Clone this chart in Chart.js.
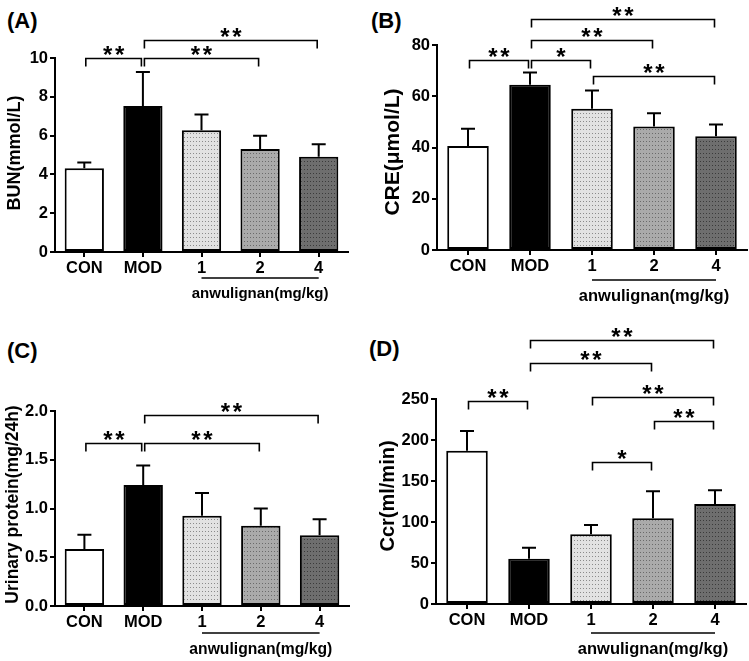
<!DOCTYPE html>
<html>
<head>
<meta charset="utf-8">
<script src="https://cdn.jsdelivr.net/npm/chart.js@4.4.0/dist/chart.umd.min.js"></script>
<style>
body{margin:0;background:#fff;width:749px;height:661px;position:relative;overflow:hidden}
canvas{position:absolute}
.lab{position:absolute;font:bold 22px "Liberation Sans",Arial,sans-serif;line-height:22px;color:#000}
</style>
</head>
<body>
<div class="lab" style="left:7px;top:10px">(A)</div>
<div class="lab" style="left:371px;top:10px">(B)</div>
<div class="lab" style="left:7px;top:340px">(C)</div>
<div class="lab" style="left:369px;top:338px">(D)</div>
<canvas id="cA" width="374" height="330" style="left:0;top:0"></canvas>
<canvas id="cB" width="374" height="330" style="left:375px;top:0"></canvas>
<canvas id="cC" width="374" height="331" style="left:0;top:330px"></canvas>
<canvas id="cD" width="374" height="346" style="left:375px;top:315px"></canvas>
<script>
const groups = ['CON', 'MOD', '1', '2', '4'];
const doseNote = 'anwulignan(mg/kg)';

// mean and SD per group
const bunMean = [4.32, 7.52, 6.28, 5.31, 4.91];
const bunSD   = [0.29, 1.76, 0.81, 0.68, 0.64];
const creMean = [40.6, 64.5, 55.1, 48.2, 44.4];
const creSD   = [6.7, 4.8, 7.1, 5.2, 4.6];
const upMean  = [0.585, 1.24, 0.926, 0.824, 0.725];
const upSD    = [0.145, 0.20, 0.234, 0.176, 0.165];
const ccrMean = [187, 55.3, 85, 104.5, 122];
const ccrSD   = [24, 13.4, 11.3, 32.9, 16.6];

// y tick labels
const bunTicks = [0, 2, 4, 6, 8, 10];
const creTicks = [0, 20, 40, 60, 80];
const upTicks  = [0, 0.5, 1.0, 1.5, 2.0];
const ccrTicks = [0, 50, 100, 150, 200, 250];

// significance brackets: from group, to group, height (axis units), label
const bunSig = [[0, 1, 10, '**'], [1, 3, 10, '**'], [1, 4, 10.93, '**']];
const creSig = [[0, 1, 74.1, '**'], [1, 2, 74.1, '*'], [1, 3, 82, '**'], [1, 4, 90.2, '**'], [2, 4, 67.8, '**']];
const upSig  = [[0, 1, 1.675, '**'], [1, 3, 1.675, '**'], [1, 4, 1.96, '**']];
const ccrSig = [[0, 1, 247.6, '**'], [1, 3, 293.5, '**'], [1, 4, 322, '**'], [2, 4, 252, '**'], [3, 4, 223.6, '**'], [2, 3, 172.8, '*']];

const FONT = '"Liberation Sans", Arial, sans-serif';

function dots(bg, dot) {
  const c = document.createElement('canvas');
  c.width = 3; c.height = 4;
  const g = c.getContext('2d');
  g.fillStyle = bg; g.fillRect(0, 0, 3, 4);
  g.fillStyle = dot; g.fillRect(1, 1, 1, 1);
  return g.createPattern(c, 'repeat');
}
const fills = ['#ffffff', '#000000', dots('#e2e2e2', '#8a8a8a'), dots('#aaaaaa', '#6a6a6a'), dots('#6e6e6e', '#3a3a3a')];

const extras = {
  id: 'extras',
  afterDatasetsDraw(chart, args, p) {
    const ctx = chart.ctx, x = chart.scales.x, y = chart.scales.y;
    const bars = chart.getDatasetMeta(0).data;
    ctx.save();
    ctx.strokeStyle = '#000';
    // error bars (upper whisker only)
    ctx.lineWidth = 2;
    p.mean.forEach((m, i) => {
      const bx = bars[i].x, yt = y.getPixelForValue(m + p.sd[i]);
      ctx.beginPath();
      ctx.moveTo(bx, bars[i].y); ctx.lineTo(bx, yt);
      ctx.moveTo(bx - 7, yt); ctx.lineTo(bx + 7, yt);
      ctx.stroke();
    });
    // brackets
    ctx.lineWidth = 1.6;
    ctx.fillStyle = '#000';
    ctx.font = 'bold 24px ' + FONT;
    ctx.textAlign = 'center';
    ctx.textBaseline = 'alphabetic';
    p.sig.forEach(([a, b, v, lab]) => {
      const x1 = x.getPixelForValue(a) + 1.5, x2 = x.getPixelForValue(b) - 1.5;
      const yl = Math.round(y.getPixelForValue(v)) + 0.5;
      ctx.beginPath();
      ctx.moveTo(x1, yl + 8); ctx.lineTo(x1, yl); ctx.lineTo(x2, yl); ctx.lineTo(x2, yl + 8);
      ctx.stroke();
      const mid = (x1 + x2) / 2;
      const n = lab.length;
      for (let k = 0; k < n; k++) {
        ctx.fillText('*', mid + (k - (n - 1) / 2) * 12, yl + 4);
      }
    });
    ctx.restore();
  },
  afterDraw(chart, args, p) {
    const ctx = chart.ctx, x = chart.scales.x, area = chart.chartArea;
    ctx.save();
    ctx.fillStyle = '#000';
    ctx.strokeStyle = '#000';
    // dose underline and label
    const x1 = x.getPixelForValue(2), x2 = x.getPixelForValue(4);
    ctx.lineWidth = 1.6;
    ctx.beginPath();
    ctx.moveTo(x1, area.bottom + p.noteLine); ctx.lineTo(x2, area.bottom + p.noteLine);
    ctx.stroke();
    ctx.font = 'bold ' + p.noteSize + 'px ' + FONT;
    ctx.textAlign = 'center';
    ctx.textBaseline = 'middle';
    ctx.fillText(doseNote, (x1 + x2) / 2, area.bottom + p.noteText);
    // y title
    ctx.translate(p.titleX, p.titleY);
    ctx.rotate(-Math.PI / 2);
    ctx.font = 'bold ' + p.titleSize + 'px ' + FONT;
    ctx.fillText(p.title, 0, 0);
    ctx.restore();
  }
};

const panels = [
  {id: 'cA', mean: bunMean, sd: bunSD, ticks: bunTicks, sig: bunSig, dec: 0, title: 'BUN(mmol/L)',
   titleSize: 18, titleX: 15, titleY: 153, left: 55, right: 348, top: 58, bottom: 252, tickSize: 16.5,
   noteSize: 15, noteLine: 26, noteText: 42},
  {id: 'cB', mean: creMean, sd: creSD, ticks: creTicks, sig: creSig, dec: 0, title: 'CRE(μmol/L)',
   titleSize: 21, titleX: 18, titleY: 152, left: 62, right: 372, top: 45, bottom: 250, tickSize: 16.5,
   noteSize: 16.5, noteLine: 30, noteText: 46},
  {id: 'cC', mean: upMean, sd: upSD, ticks: upTicks, sig: upSig, dec: 1, title: 'Urinary protein(mg/24h)',
   titleSize: 17.5, titleX: 13, titleY: 174.5, left: 55, right: 349, top: 81, bottom: 276, tickSize: 16.5,
   noteSize: 15.7, noteLine: 27, noteText: 44},
  {id: 'cD', mean: ccrMean, sd: ccrSD, ticks: ccrTicks, sig: ccrSig, dec: 0, title: 'Ccr(ml/min)',
   titleSize: 20, titleX: 13.5, titleY: 181, left: 61, right: 371, top: 84, bottom: 289, tickSize: 16.5,
   noteSize: 16.5, noteLine: 29, noteText: 45}
];

panels.forEach(p => {
  const el = document.getElementById(p.id);
  const W = el.width, H = el.height;
  const tickFont = {family: FONT, size: p.tickSize, weight: 'bold'};
  new Chart(el, {
    type: 'bar',
    data: {
      labels: groups,
      datasets: [{
        data: p.mean,
        backgroundColor: fills,
        borderColor: '#000',
        borderWidth: 2,
        borderSkipped: false,
        barPercentage: 0.67,
        categoryPercentage: 1
      }]
    },
    options: {
      responsive: false,
      animation: false,
      layout: {padding: {top: p.top, right: W - p.right, left: 0, bottom: 0}},
      plugins: {legend: {display: false}, tooltip: {enabled: false}, extras: p},
      scales: {
        x: {
          offset: true,
          grid: {offset: false, drawOnChartArea: false, tickLength: 5, color: '#000', lineWidth: 2},
          border: {color: '#000', width: 2},
          ticks: {color: '#000', font: tickFont, padding: 2, maxRotation: 0},
          afterFit: s => { s.height = H - p.bottom; }
        },
        y: {
          min: p.ticks[0],
          max: p.ticks[p.ticks.length - 1],
          grid: {drawOnChartArea: false, tickLength: 5, color: '#000', lineWidth: 2},
          border: {color: '#000', width: 2},
          ticks: {color: '#000', font: tickFont, padding: 2, stepSize: p.ticks[1] - p.ticks[0],
                  callback: v => v.toFixed(p.dec)},
          afterFit: s => { s.width = p.left; }
        }
      }
    },
    plugins: [extras]
  });
});
</script>
</body>
</html>
